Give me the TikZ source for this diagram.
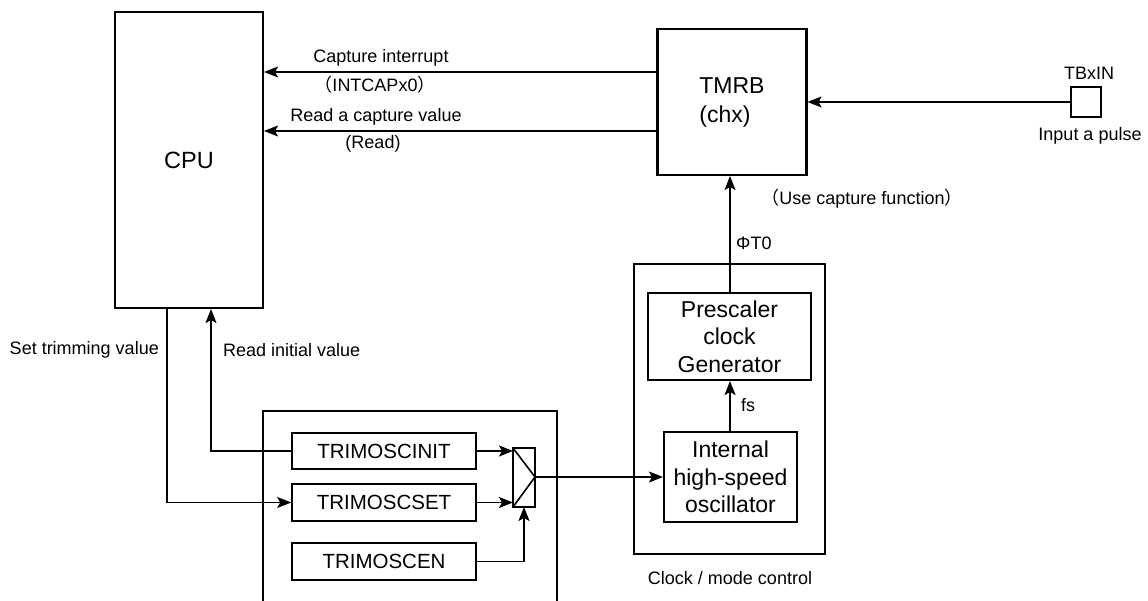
\documentclass[tikz,border=0pt]{standalone}
\usepackage{fontspec}
\setmainfont{Liberation Sans}
\newfontfamily\cjk{Noto Sans CJK SC}
\usetikzlibrary{arrows.meta}
\begin{document}
\begin{tikzpicture}[x=1pt,y=-1pt,
  box/.style={draw, line width=2.1pt, inner sep=0pt, align=center, font=\fontsize{23}{27.5}\selectfont},
  thin box/.style={draw, line width=1.6pt, inner sep=0pt, align=center, font=\fontsize{20.5}{25}\selectfont},
  lbl/.style={inner sep=0pt, font=\fontsize{18}{22}\selectfont},
  conn/.style={line width=1.6pt, -{Stealth[length=14pt,width=11pt,inset=3pt]}}]
\useasboundingbox (0,0) rectangle (1148,601);
% main blocks
\node[box, minimum width=148pt, minimum height=296pt, font=\fontsize{23.5}{28}\selectfont] (cpu) at (189,160) {CPU};
\node[box, minimum width=149pt, minimum height=146pt, align=left, font=\fontsize{23}{29}\selectfont] (tmrb) at (732,102) {TMRB\\(chx)};
\node[draw, line width=1.6pt, minimum width=30pt, minimum height=30pt, inner sep=0pt] (pin) at (1086,102) {};
\node[lbl, anchor=south] (tbxin) at (1089,80) {TBxIN};
\node[lbl, anchor=north] (pulse) at (1090,127) {Input a pulse};
% clock block
\node[draw, line width=2.1pt, minimum width=191pt, minimum height=290pt, inner sep=0pt] (clk) at (729.5,409) {};
\node[box, minimum width=163pt, minimum height=87pt] (pre) at (729.5,336.5) {Prescaler\\clock\\Generator};
\node[box, minimum width=133pt, minimum height=90pt] (osc) at (730.5,477) {Internal\\high-speed\\oscillator};
\node[lbl] (clklbl) at (730,578) {Clock / mode control};
% trim block
\draw[line width=2.1pt] (263,601) -- (263,411) -- (557,411) -- (557,601);
\node[thin box, minimum width=184pt, minimum height=36pt] (init) at (384,451) {TRIMOSCINIT};
\node[thin box, minimum width=184pt, minimum height=37pt] (set) at (384,502.5) {TRIMOSCSET};
\node[thin box, minimum width=184pt, minimum height=37pt] (en) at (384,561.5) {TRIMOSCEN};
% mux
\coordinate (mtl) at (513,448);
\coordinate (mbl) at (513,507);
\coordinate (mout) at (535,477);
\coordinate (mbot) at (524,507);
\draw[line width=1.6pt] (513,448) rectangle (535,507);
\draw[line width=1.6pt] (mtl) -- (mout) -- (mbl);
% helper coordinates
\coordinate (y72) at (0,72);
\coordinate (y131) at (0,131);
\coordinate (xr) at (211,0);
\coordinate (xs) at (167,0);
\coordinate (xfi) at (730,0);
% connectors
\draw[conn] (tmrb.west |- y72) -- (cpu.east |- y72);
\draw[conn] (tmrb.west |- y131) -- (cpu.east |- y131);
\draw[conn] (pin.west) -- (tmrb.east);
\draw[conn] (pre.north -| xfi) -- (tmrb.south -| xfi);
\draw[conn] (osc.north -| xfi) -- (pre.south -| xfi);
\draw[conn] (init.west) -| (cpu.south -| xr);
\draw[conn] (cpu.south -| xs) |- (set.west);
\draw[conn] (init.east) -- (mtl |- init.east);
\draw[conn] (set.east) -- (mtl |- set.east);
\draw[conn] (en.east) -| (mbot);
\draw[conn] (mout) -- (osc.west |- mout);
% labels
\node[lbl, anchor=south] (l1) at (381,66) {Capture interrupt};
\node[lbl, anchor=north] (l2) at (375,76) {{\cjk （}INTCAPx0{\cjk ）}};
\node[lbl, anchor=south] (l3) at (376,125) {Read a capture value};
\node[lbl, anchor=north] (l4) at (373,135) {(Read)};
\node[lbl, anchor=west] (l5) at (736,243) {ΦT0};
\node[lbl, anchor=west] (l6) at (741,405) {fs};
\node[lbl] (l7) at (862,199) {{\cjk （}Use capture function{\cjk ）}};
\node[lbl, anchor=east] (l8) at (159,350) {Set trimming value};
\node[lbl, anchor=west] (l9) at (223,350) {Read initial value};
\end{tikzpicture}
\end{document}
